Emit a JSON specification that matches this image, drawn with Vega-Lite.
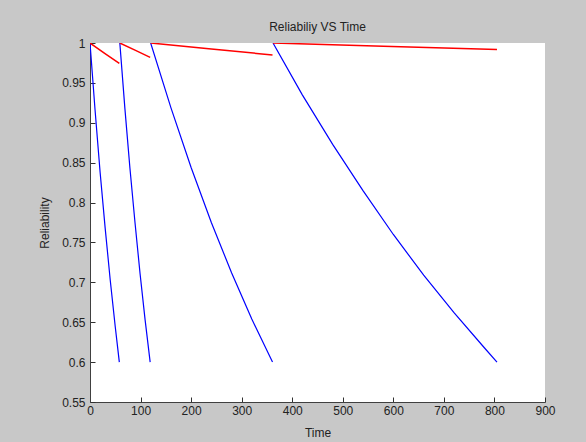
{
  "$schema": "https://vega.github.io/schema/vega-lite/v6.json",
  "width": 455,
  "height": 359,
  "autosize": {"type": "none"},
  "padding": {"left": 90, "top": 43, "right": 41, "bottom": 40},
  "background": "#c8c8c8",
  "view": {"fill": "#ffffff", "stroke": null},
  "title": {"text": "Reliabiliy VS Time", "font": "Liberation Sans", "fontSize": 12, "fontWeight": "normal", "color": "#222222", "offset": 3, "anchor": "middle"},
  "config": {
    "axis": {
      "labelFont": "Liberation Sans", "labelFontSize": 12, "labelColor": "#222222",
      "titleFont": "Liberation Sans", "titleFontSize": 12, "titleFontWeight": "normal", "titleColor": "#222222",
      "domainColor": "#404040", "grid": false, "labelFlush": false, "zindex": 1
    }
  },
  "data": {"values": [
    {"t": 0, "R": 1, "curve": "B1", "kind": "rel"},
    {"t": 10, "R": 0.916, "curve": "B1", "kind": "rel"},
    {"t": 20, "R": 0.838, "curve": "B1", "kind": "rel"},
    {"t": 30, "R": 0.768, "curve": "B1", "kind": "rel"},
    {"t": 40, "R": 0.703, "curve": "B1", "kind": "rel"},
    {"t": 50, "R": 0.644, "curve": "B1", "kind": "rel"},
    {"t": 58, "R": 0.6, "curve": "B1", "kind": "rel"},
    {"t": 59, "R": 1, "curve": "B2", "kind": "rel"},
    {"t": 69, "R": 0.918, "curve": "B2", "kind": "rel"},
    {"t": 79, "R": 0.843, "curve": "B2", "kind": "rel"},
    {"t": 89, "R": 0.775, "curve": "B2", "kind": "rel"},
    {"t": 99, "R": 0.711, "curve": "B2", "kind": "rel"},
    {"t": 109, "R": 0.653, "curve": "B2", "kind": "rel"},
    {"t": 119, "R": 0.6, "curve": "B2", "kind": "rel"},
    {"t": 120, "R": 1, "curve": "B3", "kind": "rel"},
    {"t": 160, "R": 0.919, "curve": "B3", "kind": "rel"},
    {"t": 200, "R": 0.844, "curve": "B3", "kind": "rel"},
    {"t": 240, "R": 0.775, "curve": "B3", "kind": "rel"},
    {"t": 280, "R": 0.712, "curve": "B3", "kind": "rel"},
    {"t": 320, "R": 0.654, "curve": "B3", "kind": "rel"},
    {"t": 361, "R": 0.6, "curve": "B3", "kind": "rel"},
    {"t": 362, "R": 1, "curve": "B4", "kind": "rel"},
    {"t": 420, "R": 0.935, "curve": "B4", "kind": "rel"},
    {"t": 480, "R": 0.873, "curve": "B4", "kind": "rel"},
    {"t": 540, "R": 0.815, "curve": "B4", "kind": "rel"},
    {"t": 600, "R": 0.76, "curve": "B4", "kind": "rel"},
    {"t": 660, "R": 0.709, "curve": "B4", "kind": "rel"},
    {"t": 720, "R": 0.662, "curve": "B4", "kind": "rel"},
    {"t": 780, "R": 0.618, "curve": "B4", "kind": "rel"},
    {"t": 805, "R": 0.6, "curve": "B4", "kind": "rel"},
    {"t": 0, "R": 1, "curve": "R1", "kind": "red"},
    {"t": 29, "R": 0.987, "curve": "R1", "kind": "red"},
    {"t": 58, "R": 0.9745, "curve": "R1", "kind": "red"},
    {"t": 59, "R": 1, "curve": "R2", "kind": "red"},
    {"t": 89, "R": 0.991, "curve": "R2", "kind": "red"},
    {"t": 119, "R": 0.982, "curve": "R2", "kind": "red"},
    {"t": 120, "R": 1, "curve": "R3", "kind": "red"},
    {"t": 240, "R": 0.9925, "curve": "R3", "kind": "red"},
    {"t": 361, "R": 0.985, "curve": "R3", "kind": "red"},
    {"t": 362, "R": 1, "curve": "R4", "kind": "red"},
    {"t": 580, "R": 0.996, "curve": "R4", "kind": "red"},
    {"t": 805, "R": 0.992, "curve": "R4", "kind": "red"}
  ]},
  "encoding": {
    "x": {"field": "t", "type": "quantitative", "scale": {"domain": [0, 900], "nice": false, "zero": false},
          "axis": {"title": "Time", "values": [0,100,200,300,400,500,600,700,800,900], "ticks": true, "tickSize": -5, "tickColor": "#303030", "tickWidth": 1, "labelPadding": 8, "titlePadding": 11}},
    "y": {"field": "R", "type": "quantitative", "scale": {"domain": [0.55, 1], "nice": false, "zero": false},
          "axis": {"title": "Reliability", "values": [0.55,0.6,0.65,0.7,0.75,0.8,0.85,0.9,0.95,1], "format": ".2~f", "ticks": true, "tickSize": -5, "tickColor": "#303030", "tickWidth": 1, "labelPadding": 10, "titlePadding": 10}},
    "detail": {"field": "curve", "type": "nominal"},
    "order": {"field": "t", "type": "quantitative"}
  },
  "layer": [
    {"transform": [{"filter": "datum.kind === 'rel'"}], "mark": {"type": "line", "color": "#0000ff", "strokeWidth": 1.2, "clip": true}},
    {"transform": [{"filter": "datum.kind === 'red'"}], "mark": {"type": "line", "color": "#ff0000", "strokeWidth": 1.5, "clip": true}}
  ]
}
